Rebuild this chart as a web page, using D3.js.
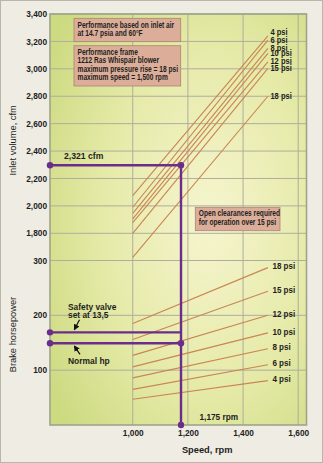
<!DOCTYPE html>
<html><head><meta charset="utf-8">
<script src="https://cdn.jsdelivr.net/npm/d3@7"></script>
<style>
html,body{margin:0;padding:0;background:#efece3;}
svg{display:block;}
text{font-family:"Liberation Sans",Arial,Helvetica,sans-serif;fill:#1e1e1e;}
</style></head><body>
<svg id="c" width="323" height="463"></svg>
<script>
// ---- data ----
const pressures = ["4 psi","6 psi","8 psi","10 psi","12 psi","15 psi","18 psi"];
const speedStart = 1000, speedEnd = 1490;
const cfmAtStart = [2075, 1990, 1946, 1905, 1878, 1800, 1625];
const cfmAtEnd   = [3241, 3210, 3149, 3113, 3051, 3003, 2800];
const hpAtStart  = [47, 65, 86, 106, 127, 156, 185];
const hpAtEnd    = [81, 110, 139, 168, 200, 244, 287];
const cfmTicks = [1800, 2000, 2200, 2400, 2600, 2800, 3000, 3200, 3400];
const hpTicks  = [100, 200, 300];
const speedTicks = [1000, 1200, 1400, 1600];
const opSpeed = 1175, opCfm = 2297, safetyHp = 169, normalHp = 149;
const notes1 = ["Performance based on inlet air", "at 14.7 psia and 60°F"];
const notes2 = ["Performance frame", "1212 Ras Whispair blower", "maximum pressure rise = 18 psi", "maximum speed = 1,500 rpm"];
const notes3 = ["Open clearances required", "for operation over 15 psi"];

// ---- layout ----
const svg = d3.select("#c");
const L = 50, R = 306.5, T = 14, B = 425;
const x = d3.scaleLinear().domain([700, 1630]).range([L, R]);
const yC = d3.scaleLinear().domain([1800, 3400]).range([233.3, T]);
const yH = d3.scaleLinear().domain([0, 300]).range([B, 260.5]);

svg.append("rect").attr("x",0.5).attr("y",0.5).attr("width",322).attr("height",462)
  .attr("fill","#efece3").attr("stroke","#b9b5aa");

const defs = svg.append("defs");
const g = defs.append("radialGradient").attr("id","bg").attr("cx","0.62").attr("cy","0.5").attr("r","0.75");
g.append("stop").attr("offset","0").attr("stop-color","#f6f5cf");
g.append("stop").attr("offset","0.55").attr("stop-color","#e6eaa8");
g.append("stop").attr("offset","1").attr("stop-color","#ccda80");
const mk = defs.append("marker").attr("id","arr").attr("viewBox","0 0 10 10").attr("refX",8).attr("refY",5)
  .attr("markerWidth",5).attr("markerHeight",5).attr("orient","auto");
mk.append("path").attr("d","M0,0L10,5L0,10z").attr("fill","#111");

svg.append("rect").attr("x",L).attr("y",T).attr("width",R-L).attr("height",B-T).attr("fill","url(#bg)");

// gridlines
const grid = svg.append("g").attr("stroke","#aeae9c").attr("stroke-width",1);
grid.selectAll(".hc").data(cfmTicks).join("line").attr("x1",L).attr("x2",R)
  .attr("y1",d=>yC(d)).attr("y2",d=>yC(d));
grid.selectAll(".hh").data(hpTicks).join("line").attr("x1",L).attr("x2",R)
  .attr("y1",d=>yH(d)).attr("y2",d=>yH(d));
grid.selectAll(".v").data(speedTicks).join("line").attr("y1",T).attr("y2",B)
  .attr("x1",d=>x(d)).attr("x2",d=>x(d));

svg.append("rect").attr("x",L).attr("y",T).attr("width",R-L).attr("height",B-T)
  .attr("fill","none").attr("stroke","#9fa48a").attr("stroke-width",1.6);

// axes labels
function styleAxis(sel){
  sel.select(".domain").remove();
  sel.selectAll("line").remove();
  sel.selectAll("text").attr("font-size","8.3px").attr("font-weight","bold").attr("fill","#2a2a2a")
    .style("font-family","'Liberation Sans',Arial,sans-serif");
}
svg.append("g").attr("transform",`translate(${L-2},0)`)
  .call(d3.axisLeft(yC).tickValues(cfmTicks).tickSize(0).tickPadding(1).tickFormat(d3.format(",")))
  .call(styleAxis);
svg.append("g").attr("transform",`translate(${L-2},0)`)
  .call(d3.axisLeft(yH).tickValues(hpTicks).tickSize(0).tickPadding(1).tickFormat(d3.format(",")))
  .call(styleAxis);
svg.append("g").attr("transform",`translate(0,${B+4})`)
  .call(d3.axisBottom(x).tickValues(speedTicks).tickSize(0).tickPadding(1).tickFormat(d3.format(",")))
  .call(styleAxis);

svg.append("text").attr("transform",`translate(15.5,${yC(2500)+3}) rotate(-90)`).attr("text-anchor","middle")
  .attr("font-size","9.3px").text("Inlet volume, cfm");
svg.append("text").attr("transform",`translate(15.5,${yH(165)}) rotate(-90)`).attr("text-anchor","middle")
  .attr("font-size","9.3px").text("Brake horsepower");
svg.append("text").attr("x",x(1270)).attr("y",453).attr("text-anchor","middle")
  .attr("font-size","9.3px").attr("font-weight","bold").attr("fill","#2a2a2a").text("Speed, rpm");

// condensed text helper
function ctext(parent, tx, ty, str, size, sx){
  return parent.append("text").attr("transform",`translate(${tx},${ty}) scale(${sx},1)`)
    .attr("font-size",size+"px").attr("font-weight","bold").attr("dominant-baseline","central").text(str);
}

// performance lines
const lines = svg.append("g").attr("stroke","#c98552").attr("stroke-width",1.1).attr("fill","none");
pressures.forEach((p,i)=>{
  lines.append("line").attr("x1",x(speedStart)).attr("y1",yC(cfmAtStart[i]))
    .attr("x2",x(speedEnd)).attr("y2",yC(cfmAtEnd[i]));
  lines.append("line").attr("x1",x(speedStart)).attr("y1",yH(hpAtStart[i]))
    .attr("x2",x(speedEnd)).attr("y2",yH(hpAtEnd[i]));
});
const lab = svg.append("g");
pressures.forEach((p,i)=>{
  const dy = i===0 ? -3.2 : 0;
  ctext(lab, x(speedEnd)+2.5, yC(cfmAtEnd[i])+dy, p, 8.4, 0.9);
  ctext(lab, x(speedEnd)+4.5, yH(hpAtEnd[i])-1.5, p, 8.8, 0.92);
});

// purple operating lines
const pc = "#6a2d8e";
const op = svg.append("g").attr("stroke",pc).attr("stroke-width",2.4).attr("fill","none");
op.append("line").attr("x1",L).attr("x2",x(opSpeed)).attr("y1",yC(opCfm)).attr("y2",yC(opCfm));
op.append("line").attr("x1",x(opSpeed)).attr("x2",x(opSpeed)).attr("y1",yC(opCfm)).attr("y2",yH(0));
op.append("line").attr("x1",L).attr("x2",x(opSpeed)).attr("y1",yH(safetyHp)).attr("y2",yH(safetyHp));
op.append("line").attr("x1",L).attr("x2",x(opSpeed)).attr("y1",yH(normalHp)).attr("y2",yH(normalHp));
const dots = [[700,yC(opCfm)],[opSpeed,yC(opCfm)],[700,yH(safetyHp)],[700,yH(normalHp)],[opSpeed,yH(normalHp)],[opSpeed,yH(0)]];
svg.append("g").selectAll("circle").data(dots).join("circle")
  .attr("cx",d=>x(d[0])).attr("cy",d=>d[1]).attr("r",3.2).attr("fill",pc);

// annotations
const an = svg.append("g");
ctext(an, 64, yC(opCfm)-9.5, "2,321 cfm", 9.6, 0.9);
ctext(an, x(opSpeed)+18.5, 417, "1,175 rpm", 9.2, 0.9);
ctext(an, 68, yH(safetyHp)-25.8, "Safety valve", 9.1, 0.92);
ctext(an, 68, yH(safetyHp)-17.8, "set at 13,5", 9.1, 0.92);
ctext(an, 68, yH(normalHp)+17.5, "Normal hp", 9.6, 0.88);
an.append("line").attr("x1",79.5).attr("y1",yH(safetyHp)-12.5).attr("x2",74.5).attr("y2",yH(safetyHp)-3)
  .attr("stroke","#111").attr("stroke-width",1.2).attr("marker-end","url(#arr)");
an.append("line").attr("x1",80).attr("y1",yH(normalHp)+11).attr("x2",74.5).attr("y2",yH(normalHp)+3)
  .attr("stroke","#111").attr("stroke-width",1.2).attr("marker-end","url(#arr)");

// note boxes
function box(bx, by, bw, bh, rows, ty0, step, size, sx){
  const gb = svg.append("g");
  gb.append("rect").attr("x",bx).attr("y",by).attr("width",bw).attr("height",bh)
    .attr("fill","#dcae99").attr("stroke","#a98573").attr("stroke-width",0.8);
  rows.forEach((r,i)=>ctext(gb, bx+3.5, ty0+i*step, r, size, sx));
}
box(74, 18.3, 106.7, 23.4, notes1, 25.3, 8.2, 8.4, 0.79);
box(74, 45.7, 106.7, 40.3, notes2, 51.8, 8.6, 8.4, 0.79);
box(195.3, 207.3, 84.7, 23.4, notes3, 212.8, 9, 8.4, 0.79);
</script>
</body></html>
